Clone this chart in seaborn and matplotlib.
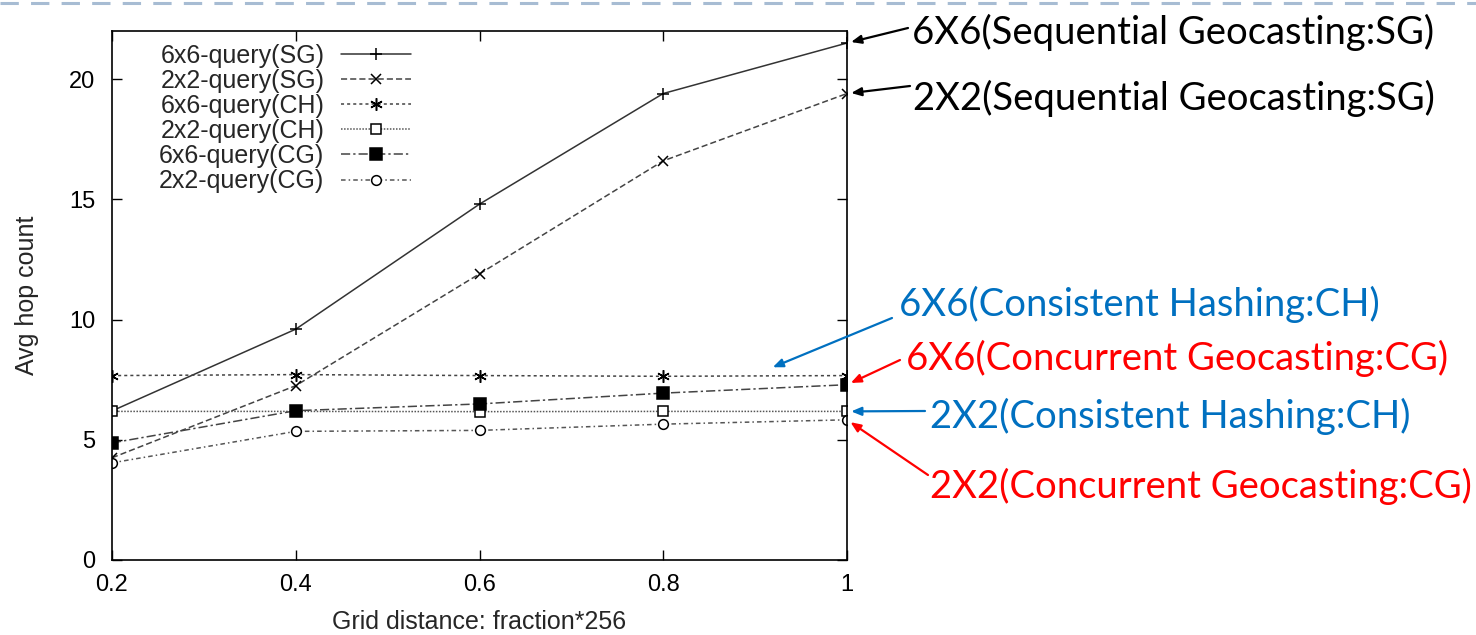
import matplotlib
matplotlib.use("Agg")
import pandas as pd
import seaborn as sns
from matplotlib import pyplot as plt
from matplotlib.lines import Line2D

W, H = 1476, 635

fractions = [0.2, 0.4, 0.6, 0.8, 1.0]
x_tick_labels = ["0.2", "0.4", "0.6", "0.8", "1"]
y_ticks = [0, 5, 10, 15, 20]

series_names = [
    "6x6-query(SG)",
    "2x2-query(SG)",
    "6x6-query(CH)",
    "2x2-query(CH)",
    "6x6-query(CG)",
    "2x2-query(CG)",
]
sg_6x6 = [6.2, 9.6, 14.8, 19.4, 21.5]
sg_2x2 = [4.25, 7.25, 11.9, 16.6, 19.4]
ch_6x6 = [7.67, 7.71, 7.67, 7.64, 7.67]
ch_2x2 = [6.18, 6.18, 6.17, 6.18, 6.18]
cg_6x6 = [4.87, 6.21, 6.49, 6.94, 7.29]
cg_2x2 = [4.04, 5.35, 5.39, 5.65, 5.83]

callout_texts = [
    "6X6(Sequential Geocasting:SG)",
    "2X2(Sequential Geocasting:SG)",
    "6X6(Consistent Hashing:CH)",
    "6X6(Concurrent Geocasting:CG)",
    "2X2(Consistent Hashing:CH)",
    "2X2(Concurrent Geocasting:CG)",
]


def to_fig(px, py):
    return px / W, 1 - py / H


def main():
    sns.set_style("ticks")
    plt.rcParams["font.family"] = ["Liberation Sans", "DejaVu Sans"]

    values = [sg_6x6, sg_2x2, ch_6x6, ch_2x2, cg_6x6, cg_2x2]
    df = pd.DataFrame(
        {
            "fraction": fractions * len(series_names),
            "hops": sum(values, []),
            "series": [n for n in series_names for _ in fractions],
        }
    )

    # gnuplot-like styles: (linestyle, marker, markersize, facecolor, line colour)
    styles = {
        "6x6-query(SG)": ("-", "+", 9, "black", "#333333"),
        "2x2-query(SG)": ((0, (4, 2)), "x", 7, "black", "#444444"),
        "6x6-query(CH)": ((0, (2, 2)), (6, 2, 0), 9, "black", "#444444"),
        "2x2-query(CH)": ((0, (1, 1)), "s", 7, "white", "#555555"),
        "6x6-query(CG)": ((0, (6, 2, 1.5, 2)), "s", 8, "black", "#444444"),
        "2x2-query(CG)": ((0, (3, 2, 1, 2)), "o", 7, "white", "#555555"),
    }

    fig = plt.figure(figsize=(W / 100, H / 100), dpi=100)
    ax = fig.add_axes([112 / W, (H - 560) / H, (847 - 112) / W, (560 - 31) / H])

    for name in series_names:
        ls, marker, ms, mfc, lc = styles[name]
        sns.lineplot(
            data=df[df.series == name],
            x="fraction",
            y="hops",
            ax=ax,
            label=name,
            color=lc,
            linestyle=ls,
            linewidth=1.1,
            marker=marker,
            markersize=ms,
            markerfacecolor=mfc,
            markeredgecolor="black",
            markeredgewidth=1.1,
        )

    ax.set_xlim(0.2, 1.0)
    ax.set_ylim(0, 22)
    ax.set_xticks(fractions)
    ax.set_xticklabels(x_tick_labels)
    ax.set_yticks(y_ticks)
    ax.tick_params(
        direction="in", top=True, right=True, length=7, width=1,
        labelsize=17, colors="black",
    )
    ax.tick_params(axis="x", pad=10)
    ax.tick_params(axis="y", pad=12)
    for sp in ax.spines.values():
        sp.set_linewidth(1.2)
        sp.set_color("black")

    ax.set_xlabel("Grid distance: fraction*256", fontsize=18)
    ax.set_ylabel("Avg hop count", fontsize=18)
    ax.xaxis.set_label_coords(0.5, -0.095)
    ax.yaxis.set_label_coords(-0.099, 0.5)

    ax.legend(
        loc="upper left",
        bbox_to_anchor=(0.064, 0.976),
        frameon=False,
        fontsize=18,
        markerfirst=False,
        handlelength=2.8,
        handletextpad=0.65,
        labelspacing=0.045,
        borderpad=0,
        borderaxespad=0,
    )

    # dashed slide rule at the top
    fig.add_artist(
        Line2D([0, 1], [1 - 3 / H, 1 - 3 / H], transform=fig.transFigure,
               color="#a7bcd3", lw=2.2, linestyle=(0, (6, 4)))
    )

    blue, red = "#0070c0", "#ff0000"
    colors = ["black", "black", blue, red, blue, red]
    text_pos = [(912, 44), (913, 110), (899, 316), (906, 370), (930, 428), (930, 498)]
    tails = [(908, 28), (910, 86), (892, 318), (900, 360), (925, 411), (928, 475)]
    heads = [
        (1.0, sg_6x6[-1]),
        (1.0, sg_2x2[-1]),
        (0.915, 7.95),
        (1.0, cg_6x6[-1]),
        (1.0, ch_2x2[-1]),
        (1.0, cg_2x2[-1]),
    ]
    for txt, col, tp, tail, head in zip(callout_texts, colors, text_pos, tails, heads):
        fig.text(*to_fig(*tp), txt, color=col, fontsize=27.5, family="Lato",
                 ha="left", va="baseline")
        ax.annotate(
            "", xy=head, xycoords="data",
            xytext=to_fig(*tail), textcoords="figure fraction",
            arrowprops=dict(arrowstyle="-|>,head_length=0.6,head_width=0.25",
                            color=col, lw=1.6, shrinkA=0, shrinkB=3),
            annotation_clip=False,
        )

    fig.savefig("out.png", dpi=100)


if __name__ == "__main__":
    main()
